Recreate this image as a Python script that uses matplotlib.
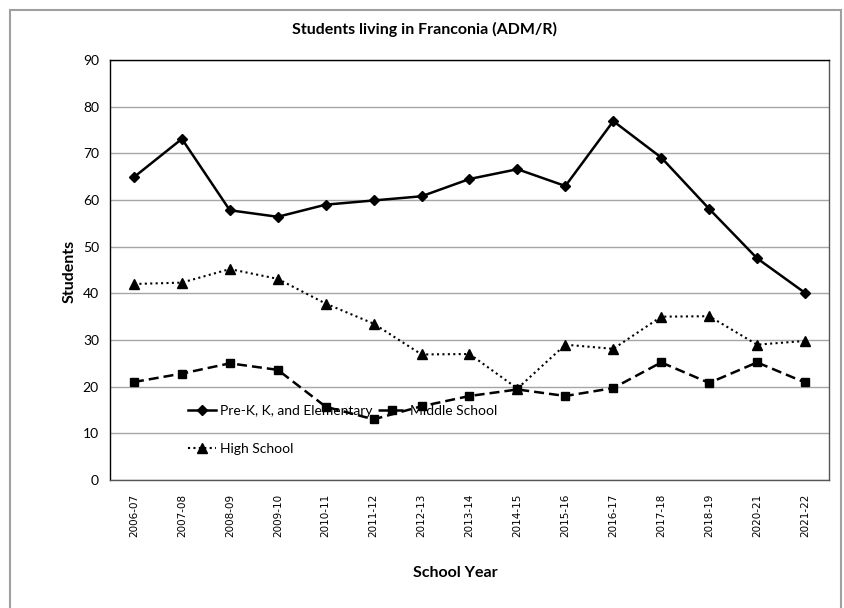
import matplotlib
matplotlib.use("Agg")
import matplotlib.pyplot as plt
from matplotlib.patches import Rectangle

years = ["2006-07", "2007-08", "2008-09", "2009-10", "2010-11", "2011-12", "2012-13",
         "2013-14", "2014-15", "2015-16", "2016-17", "2017-18", "2018-19", "2020-21", "2021-22"]
elementary = [64.9, 73.1, 57.8, 56.4, 59.0, 59.9, 60.8, 64.5, 66.6, 63.0, 76.9, 69.1, 58.1, 47.5, 40.1]
middle = [21.0, 22.8, 25.0, 23.6, 15.7, 13.0, 15.8, 18.0, 19.4, 18.0, 19.7, 25.2, 20.8, 25.2, 20.9]
high = [42.0, 42.3, 45.2, 43.1, 37.8, 33.5, 26.9, 27.0, 19.6, 29.0, 28.1, 35.0, 35.1, 29.0, 29.8]
yticks = [0, 10, 20, 30, 40, 50, 60, 70, 80, 90]

plt.rcParams['font.family'] = ['Lato', 'DejaVu Sans']

fig = plt.figure(figsize=(8.45, 6.08), dpi=100)
W, H = 845, 608
ax = fig.add_axes([110 / W, 1 - 480 / H, (829 - 110) / W, (480 - 60) / H])

x = list(range(len(years)))
l1, = ax.plot(x, elementary, color='black', lw=1.8, marker='D', ms=5, label='Pre-K, K, and Elementary')
l2, = ax.plot(x, middle, color='black', lw=1.8, ls=(0, (4, 2)), marker='s', ms=5.5, label='Middle School')
l3, = ax.plot(x, high, color='black', lw=1.5, ls=(0, (1, 1.6)), marker='^', ms=6.5, label='High School')

ax.set_xlim(-0.5, len(years) - 0.5)
ax.set_ylim(0, 90)
ax.set_yticks(yticks)
ax.set_yticklabels([str(v) for v in yticks], fontsize=10)
ax.set_xticks(x)
ax.set_xticklabels(years, rotation=90, fontsize=7.5, family='DejaVu Sans')
ax.tick_params(axis='both', length=0, pad=8)
ax.tick_params(axis='x', pad=10)
ax.yaxis.grid(True, color='#a6a6a6', lw=1)
ax.set_axisbelow(True)
for s in ['left', 'top']:
    ax.spines[s].set_color('black')
for s in ['right', 'bottom']:
    ax.spines[s].set_color('#555555')
for s in ax.spines.values():
    s.set_linewidth(1)

fig.text(425 / W, 1 - 29 / H, 'Students living in Franconia (ADM/R)', ha='center', va='center',
         fontsize=11.5, fontweight='bold')
fig.text(70 / W, 1 - 271 / H, 'Students', rotation=90, ha='center', va='center',
         fontsize=11.5, fontweight='bold')
fig.text(455 / W, 1 - 573 / H, 'School Year', ha='center', va='center',
         fontsize=11.5, fontweight='bold')

leg = ax.legend(handles=[l1, l3, l2], ncol=2, loc='upper left',
                bbox_to_anchor=(188 / W, 1 - 405 / H), bbox_transform=fig.transFigure,
                frameon=False, fontsize=10, handlelength=2.0, handletextpad=0.3,
                columnspacing=0.4, labelspacing=1.85, borderpad=0, borderaxespad=0)

fig.patches.append(Rectangle((10 / W, -0.02), 831 / W, (598 / H) + 0.02,
                             transform=fig.transFigure, fill=False,
                             edgecolor='#a0a0a0', lw=1.5))

fig.savefig('out.png', dpi=100)
